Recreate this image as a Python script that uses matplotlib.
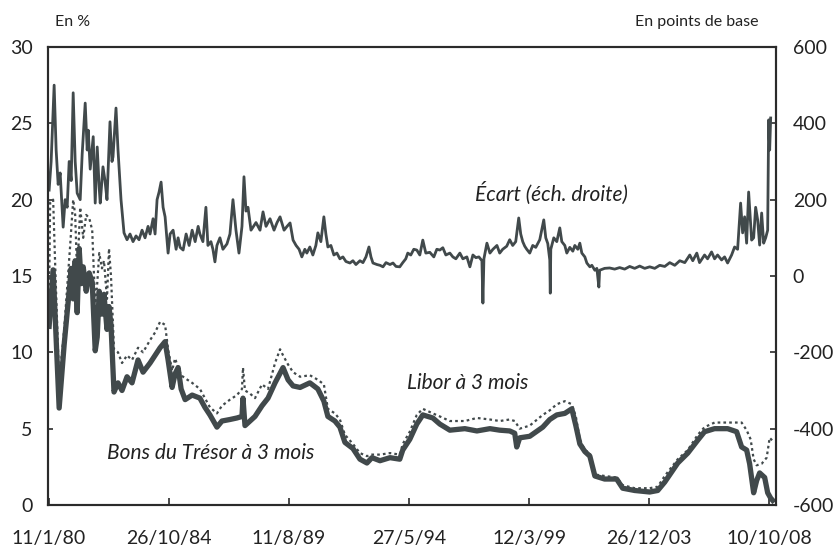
import matplotlib
matplotlib.use("Agg")
import matplotlib.pyplot as plt
import numpy as np
import pandas as pd

# dates in decimal years
tbill_years = [
    1980.03, 1980.19, 1980.43, 1980.63, 1980.87, 1980.91, 1980.99, 1981.07, 1981.15, 1981.23,
    1981.31, 1981.39, 1981.51, 1981.63, 1981.75, 1981.87, 1981.95, 1982.03, 1982.14, 1982.22,
    1982.34, 1982.42, 1982.50, 1982.62, 1982.78, 1982.94, 1983.14, 1983.34, 1983.58, 1983.78,
    1984.06, 1984.26, 1984.46, 1984.66, 1984.78, 1984.94, 1985.06, 1985.18, 1985.30, 1985.46,
    1985.74, 1986.05, 1986.25, 1986.45, 1986.73, 1986.93, 1987.25, 1987.53, 1987.73, 1987.77,
    1987.85, 1988.05, 1988.25, 1988.53, 1988.77, 1989.05, 1989.37, 1989.57, 1989.77, 1990.05,
    1990.44, 1990.76, 1991.00, 1991.16, 1991.44, 1991.64, 1991.84, 1992.16, 1992.44, 1992.72,
    1992.92, 1993.24, 1993.64, 1994.03, 1994.15, 1994.43, 1994.71, 1994.95, 1995.35, 1995.63,
    1996.03, 1996.63, 1997.11, 1997.63, 1998.02, 1998.42, 1998.62, 1998.70, 1998.82, 1999.22,
    1999.74, 2000.02, 2000.30, 2000.62, 2000.90, 2001.06, 2001.22, 2001.42, 2001.62, 2001.82,
    2002.21, 2002.69, 2002.93, 2003.41, 2004.01, 2004.33, 2004.61, 2005.13, 2005.53, 2005.93,
    2006.20, 2006.60, 2007.12, 2007.48, 2007.68, 2007.88, 2008.00, 2008.16, 2008.28, 2008.40,
    2008.60, 2008.72, 2008.84, 2008.92,
]
tbill = [
    11.7, 15.4, 6.35, 10.5, 14.7, 15.5, 13.5, 16.0, 12.6, 16.8,
    14.5, 15.6, 14.0, 15.2, 14.6, 10.1, 11.0, 14.0, 12.5, 13.8,
    11.5, 13.0, 11.8, 7.4, 8.0, 7.5, 8.4, 8.0, 9.5, 8.7,
    9.3, 9.8, 10.3, 10.7, 9.5, 7.7, 8.6, 9.0, 7.6, 6.9,
    7.2, 7.0, 6.4, 5.9, 5.1, 5.5, 5.6, 5.7, 5.8, 7.0,
    5.2, 5.5, 5.8, 6.5, 7.0, 8.0, 9.0, 8.2, 7.8, 7.7,
    8.0, 7.6, 6.8, 5.8, 5.5, 5.1, 4.1, 3.7, 3.0, 2.75,
    3.1, 2.9, 3.1, 3.0, 3.6, 4.3, 5.3, 5.9, 5.7, 5.3,
    4.9, 5.0, 4.85, 5.0, 4.9, 4.85, 4.7, 3.8, 4.4, 4.5,
    5.1, 5.6, 5.9, 6.0, 6.3, 5.2, 4.0, 3.5, 3.2, 1.9,
    1.7, 1.7, 1.1, 0.95, 0.85, 0.95, 1.5, 2.75, 3.4, 4.25,
    4.8, 5.0, 5.0, 4.8, 3.8, 3.6, 2.7, 0.8, 1.6, 2.1,
    1.8, 0.8, 0.45, 0.3,
]

libor_years = [
    1980.03, 1980.07, 1980.19, 1980.27, 1980.43, 1980.63, 1980.87, 1980.99, 1981.07, 1981.15,
    1981.27, 1981.39, 1981.51, 1981.63, 1981.75, 1981.87, 1981.95, 1982.03, 1982.14, 1982.22,
    1982.34, 1982.42, 1982.50, 1982.62, 1982.78, 1982.94, 1983.14, 1983.34, 1983.58, 1983.78,
    1984.06, 1984.26, 1984.46, 1984.66, 1984.78, 1984.94, 1985.06, 1985.18, 1985.30, 1985.46,
    1985.74, 1986.05, 1986.25, 1986.45, 1986.73, 1986.93, 1987.25, 1987.53, 1987.73, 1987.77,
    1987.85, 1988.05, 1988.25, 1988.53, 1988.77, 1989.05, 1989.25, 1989.37, 1989.57, 1989.77,
    1990.05, 1990.44, 1990.76, 1991.00, 1991.16, 1991.44, 1991.64, 1991.84, 1992.16, 1992.44,
    1992.72, 1992.92, 1993.24, 1993.64, 1994.03, 1994.15, 1994.43, 1994.71, 1994.95, 1995.35,
    1995.63, 1996.03, 1996.63, 1997.11, 1997.63, 1998.02, 1998.42, 1998.62, 1998.70, 1998.82,
    1999.22, 1999.74, 2000.02, 2000.30, 2000.62, 2000.90, 2001.06, 2001.22, 2001.42, 2001.62,
    2001.82, 2002.21, 2002.69, 2002.93, 2003.41, 2004.01, 2004.33, 2004.61, 2005.13, 2005.53,
    2005.93, 2006.20, 2006.60, 2007.12, 2007.48, 2007.68, 2007.88, 2008.04, 2008.16, 2008.28,
    2008.48, 2008.68, 2008.80, 2008.92,
]
libor = [
    14.0, 19.8, 20.0, 15.8, 8.0, 11.5, 17.0, 20.0, 19.0, 15.0,
    19.5, 17.5, 19.0, 18.8, 18.0, 13.0, 14.5, 16.5, 15.5, 16.0,
    13.5, 16.8, 15.0, 10.2, 10.0, 9.3, 9.8, 9.5, 10.3, 10.0,
    10.8, 11.3, 12.0, 11.8, 10.2, 8.8, 9.6, 9.0, 8.5, 8.3,
    8.0, 7.6, 7.0, 6.4, 6.0, 6.5, 6.9, 7.2, 7.6, 9.0,
    7.5, 7.3, 7.0, 7.9, 7.6, 9.3, 10.2, 9.8, 9.2, 8.7,
    8.4, 8.5, 8.2, 7.9, 6.3, 6.0, 5.6, 4.6, 4.0, 3.4,
    3.2, 3.3, 3.3, 3.4, 3.3, 4.0, 4.8, 5.9, 6.3, 6.0,
    5.8, 5.5, 5.5, 5.7, 5.6, 5.5, 5.6, 5.5, 5.3, 5.0,
    5.2, 5.9, 6.2, 6.6, 6.8, 6.6, 5.8, 4.3, 3.6, 3.4,
    2.0, 1.9, 1.8, 1.3, 1.1, 1.1, 1.2, 1.9, 3.0, 3.6,
    4.6, 5.1, 5.4, 5.4, 5.4, 5.4, 4.9, 4.3, 3.0, 2.6,
    2.7, 3.1, 4.4, 4.2,
]

spread_years = [
    1980.03, 1980.11, 1980.23, 1980.31, 1980.39, 1980.47, 1980.59, 1980.67, 1980.75, 1980.83,
    1980.91, 1980.99, 1981.07, 1981.15, 1981.27, 1981.35, 1981.47, 1981.55, 1981.59, 1981.67,
    1981.79, 1981.87, 1981.95, 1982.03, 1982.07, 1982.18, 1982.26, 1982.34, 1982.46, 1982.54,
    1982.58, 1982.70, 1982.78, 1982.90, 1983.02, 1983.14, 1983.26, 1983.38, 1983.50, 1983.62,
    1983.74, 1983.86, 1983.98, 1984.06, 1984.18, 1984.26, 1984.34, 1984.42, 1984.50, 1984.58,
    1984.66, 1984.78, 1984.86, 1984.98, 1985.10, 1985.18, 1985.26, 1985.38, 1985.50, 1985.62,
    1985.74, 1985.86, 1985.98, 1986.05, 1986.17, 1986.29, 1986.37, 1986.49, 1986.57, 1986.65,
    1986.73, 1986.85, 1986.97, 1987.13, 1987.25, 1987.37, 1987.49, 1987.61, 1987.73, 1987.81,
    1987.89, 1987.97, 1988.09, 1988.17, 1988.29, 1988.45, 1988.57, 1988.69, 1988.85, 1989.01,
    1989.13, 1989.25, 1989.41, 1989.53, 1989.65, 1989.77, 1989.89, 1990.01, 1990.12, 1990.24,
    1990.32, 1990.44, 1990.56, 1990.68, 1990.76, 1990.88, 1991.00, 1991.08, 1991.16, 1991.28,
    1991.40, 1991.52, 1991.64, 1991.76, 1991.88, 1992.04, 1992.16, 1992.28, 1992.44, 1992.56,
    1992.68, 1992.80, 1992.88, 1992.96, 1993.12, 1993.24, 1993.36, 1993.48, 1993.64, 1993.76,
    1993.88, 1994.03, 1994.15, 1994.27, 1994.35, 1994.47, 1994.59, 1994.71, 1994.83, 1994.95,
    1995.07, 1995.23, 1995.39, 1995.51, 1995.63, 1995.75, 1995.87, 1996.03, 1996.15, 1996.27,
    1996.43, 1996.55, 1996.71, 1996.83, 1996.95, 1997.07, 1997.19, 1997.31, 1997.35, 1997.39,
    1997.51, 1997.63, 1997.75, 1997.91, 1998.02, 1998.14, 1998.30, 1998.42, 1998.54, 1998.66,
    1998.78, 1998.86, 1998.94, 1999.02, 1999.10, 1999.22, 1999.34, 1999.46, 1999.62, 1999.78,
    1999.86, 1999.94, 2000.02, 2000.04, 2000.06, 2000.18, 2000.30, 2000.42, 2000.50, 2000.62,
    2000.70, 2000.82, 2000.94, 2001.02, 2001.14, 2001.22, 2001.30, 2001.42, 2001.50, 2001.62,
    2001.70, 2001.82, 2001.90, 2001.98, 2002.01, 2002.21, 2002.41, 2002.61, 2002.81, 2003.01,
    2003.21, 2003.41, 2003.61, 2003.81, 2004.01, 2004.21, 2004.41, 2004.61, 2004.81, 2005.01,
    2005.21, 2005.41, 2005.61, 2005.73, 2005.89, 2006.00, 2006.20, 2006.32, 2006.48, 2006.60,
    2006.72, 2006.88, 2007.00, 2007.12, 2007.28, 2007.40, 2007.52, 2007.64, 2007.72, 2007.80,
    2007.88, 2007.96, 2008.08, 2008.16, 2008.24, 2008.32, 2008.40, 2008.48, 2008.56, 2008.64,
    2008.72, 2008.76, 2008.80, 2008.84,
]
spread = [
    225, 300, 500, 330, 240, 270, 128, 200, 180, 300,
    250, 480, 300, 217, 200, 320, 453, 330, 382, 280,
    365, 191, 338, 230, 191, 286, 250, 200, 404, 300,
    312, 440, 330, 200, 113, 95, 110, 90, 105, 95,
    120, 100, 130, 110, 150, 110, 200, 220, 246, 180,
    155, 60, 110, 120, 70, 100, 75, 68, 110, 80,
    120, 90, 130, 110, 90, 180, 80, 90, 70, 37,
    80, 100, 70, 84, 110, 200, 120, 60, 130, 260,
    170, 180, 120, 128, 140, 120, 168, 130, 150, 120,
    140, 155, 120, 130, 139, 94, 80, 70, 50, 70,
    60, 76, 55, 80, 113, 90, 155, 110, 76, 80,
    55, 60, 45, 50, 38, 34, 40, 30, 40, 35,
    50, 76, 50, 34, 30, 28, 24, 35, 30, 34,
    25, 24, 35, 45, 60, 55, 70, 68, 55, 94,
    60, 62, 50, 70, 68, 74, 55, 60, 50, 45,
    60, 45, 50, 24, 55, 48, 50, 40, -71, 45,
    86, 60, 70, 80, 60, 70, 78, 95, 80, 90,
    152, 110, 90, 78, 70, 60, 80, 75, 95, 147,
    100, 85, 42, -45, 70, 100, 90, 126, 90, 80,
    60, 75, 65, 80, 70, 86, 60, 50, 34, 24,
    28, 15, 20, -29, 15, 20, 21, 18, 22, 18,
    25, 20, 26, 20, 24, 20, 28, 25, 35, 28,
    40, 35, 55, 40, 60, 35, 55, 45, 63, 45,
    55, 42, 50, 34, 55, 76, 70, 191, 113, 155,
    86, 220, 94, 100, 180, 147, 81, 165, 86, 100,
    120, 409, 330, 414,
]

x_tick_dates = ["1980-01-11", "1984-10-26", "1989-08-11", "1994-05-27",
                "1999-03-12", "2003-12-26", "2008-10-10"]
x_tick_labels = ["11/1/80", "26/10/84", "11/8/89", "27/5/94",
                 "12/3/99", "26/12/03", "10/10/08"]


def to_dates(years):
    y = np.asarray(years, dtype=float)
    return pd.Timestamp("1980-01-01") + pd.to_timedelta((y - 1980.0) * 365.25, unit="D")


plt.rcParams["font.family"] = ["Lato", "DejaVu Sans"]
plt.rcParams["axes.unicode_minus"] = False
LINE = "#41494b"
SPINE = "#2b2b2b"
TEXT = "#222222"

fig = plt.figure(figsize=(8.34, 5.47), dpi=100)
ax = fig.add_axes([0.0576, 0.0768, 0.8729, 0.8373])
ax2 = ax.twinx()

ax.plot(to_dates(libor_years), libor, color=LINE, linewidth=1.6,
        linestyle=(0, (1.2, 1.4)))
ax.plot(to_dates(tbill_years), tbill, color=LINE, linewidth=3.8,
        solid_joinstyle="round")
ax2.plot(to_dates(spread_years), spread, color=LINE, linewidth=2.0)

ax.set_ylim(0, 30)
ax.set_yticks(range(0, 31, 5))
ax2.set_ylim(-600, 600)
ax2.set_yticks(range(-600, 601, 200))
ax.set_xlim(pd.Timestamp("1979-12-27"), pd.Timestamp("2009-01-20"))
ax.set_xticks(pd.to_datetime(x_tick_dates))
ax.set_xticklabels(x_tick_labels)

for a in (ax, ax2):
    for sp in a.spines.values():
        sp.set_color(SPINE)
        sp.set_linewidth(1.5)
ax.tick_params(axis="x", direction="in", length=5, width=1.2, color=SPINE,
               labelsize=14, pad=18, labelcolor=TEXT)
ax.tick_params(axis="y", direction="in", length=3.5, width=1.2, color=SPINE,
               labelsize=14, pad=11, labelcolor=TEXT)
ax2.tick_params(axis="y", direction="in", length=4.5, width=1.2, color=SPINE,
                labelsize=14, pad=12, labelcolor=TEXT)

ax2.text(0.691, 0.681, "Écart (éch. droite)", transform=ax.transAxes,
         ha="center", va="center", fontsize=15, style="italic", color=TEXT)
ax2.text(0.493, 0.266, "Libor à 3 mois", transform=ax.transAxes,
         ha="left", va="center", fontsize=15, style="italic", color=TEXT)
ax2.text(0.081, 0.1135, "Bons du Trésor à 3 mois", transform=ax.transAxes,
         ha="left", va="center", fontsize=15, style="italic", color=TEXT)

fig.text(0.066, 0.960, "En %", ha="left", va="center", fontsize=11.5, color=TEXT)
fig.text(0.910, 0.960, "En points de base", ha="right", va="center",
         fontsize=11.5, color=TEXT)

fig.savefig("out.png", dpi=100)
